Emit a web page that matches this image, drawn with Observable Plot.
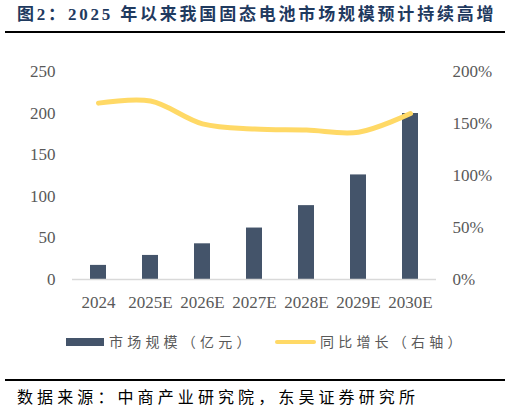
<!DOCTYPE html>
<html>
<head>
<meta charset="utf-8">
<script src="https://cdn.jsdelivr.net/npm/d3@7"></script>
<script src="https://cdn.jsdelivr.net/npm/@observablehq/plot@0.6"></script>
<style>
  body { margin: 0; background: #fff; }
  #wrap { position: relative; width: 510px; height: 412px; overflow: hidden; background: #fff; }
  #title {
    position: absolute; left: 5px; top: 0; width: 500px; height: 33px;
    border-bottom: 2px solid #000; box-sizing: border-box;
    font: bold 17px "Liberation Serif", "Noto Sans CJK SC", serif;
    color: #1F3A5F; letter-spacing: 2.8px; padding-left: 12px; line-height: 29px; white-space: nowrap;
  }
  #chart { position: absolute; left: 0; top: 36px; }
  #legend {
    position: absolute; left: 0; top: 331px; width: 510px; height: 20px;
    font: 14px "Noto Sans CJK SC", sans-serif; color: #595959; letter-spacing: 4.2px;
  }
  .sw { position: absolute; }
  .lab { position: absolute; top: 0; line-height: 20px; white-space: nowrap; }
  #source {
    position: absolute; left: 5px; top: 379px; width: 500px; height: 33px;
    border-top: 2px solid #000; box-sizing: border-box;
    font: 16px "Noto Sans CJK SC", sans-serif; color: #000; letter-spacing: 4.1px;
    padding-left: 12px; line-height: 30px; white-space: nowrap;
  }
</style>
</head>
<body>
<div id="wrap">
  <div id="title">图2：2025 年以来我国固态电池市场规模预计持续高增</div>
  <div id="chart"></div>
  <div id="legend">
    <div class="sw" style="left:66px;top:7px;width:38px;height:8px;background:#44546A"></div>
    <div class="lab" style="left:109px">市场规模（亿元）</div>
    <div class="sw" style="left:275px;top:9px;width:41px;height:4px;border-radius:2px;background:#FFD966"></div>
    <div class="lab" style="left:320px">同比增长（右轴）</div>
  </div>
  <div id="source">数据来源：中商产业研究院，东吴证券研究所</div>
</div>
<script>
const years = ["2024", "2025E", "2026E", "2027E", "2028E", "2029E", "2030E"];
const marketSize = [17, 29, 43, 62, 89, 126, 200];   // 亿元
const yoyGrowth = [170, 172, 150, 145, 144, 142, 160]; // %

const leftTicks = [0, 50, 100, 150, 200, 250];
const rightTicks = [0, 50, 100, 150, 200];

// right axis 0–200% shares the left 0–250 range
const k = 250 / 200;

const data = years.map((year, i) => ({year, size: marketSize[i], yoy: yoyGrowth[i]}));

const chart = Plot.plot({
  width: 510,
  height: 280,
  marginTop: 35.5,
  marginBottom: 37,
  marginLeft: 72,
  marginRight: 74,
  style: {fontFamily: "'Liberation Serif', serif", fontSize: "17px", color: "#595959", background: "white"},
  x: {domain: years, paddingInner: 0.69, paddingOuter: 0.345, label: null},
  y: {domain: [0, 250], label: null},
  marks: [
    Plot.axisY({ticks: leftTicks, tickSize: 0, tickPadding: 17, label: null}),
    Plot.axisY({anchor: "right", ticks: rightTicks.map(d => d * k), tickFormat: d => Math.round(d / k) + "%",
                tickSize: 0, tickPadding: 16, label: null}),
    Plot.axisX({tickSize: 0, tickPadding: 16, label: null}),
    Plot.barY(data, {x: "year", y: "size", fill: "#44546A"}),
    Plot.ruleY([0], {stroke: "#D9D9D9", strokeWidth: 1.5}),
    Plot.line(data, {x: "year", y: d => d.yoy * k, stroke: "#FFD966", strokeWidth: 5,
                     strokeLinecap: "round", curve: "catmull-rom"})
  ]
});

document.getElementById("chart").append(chart);
</script>
</body>
</html>
